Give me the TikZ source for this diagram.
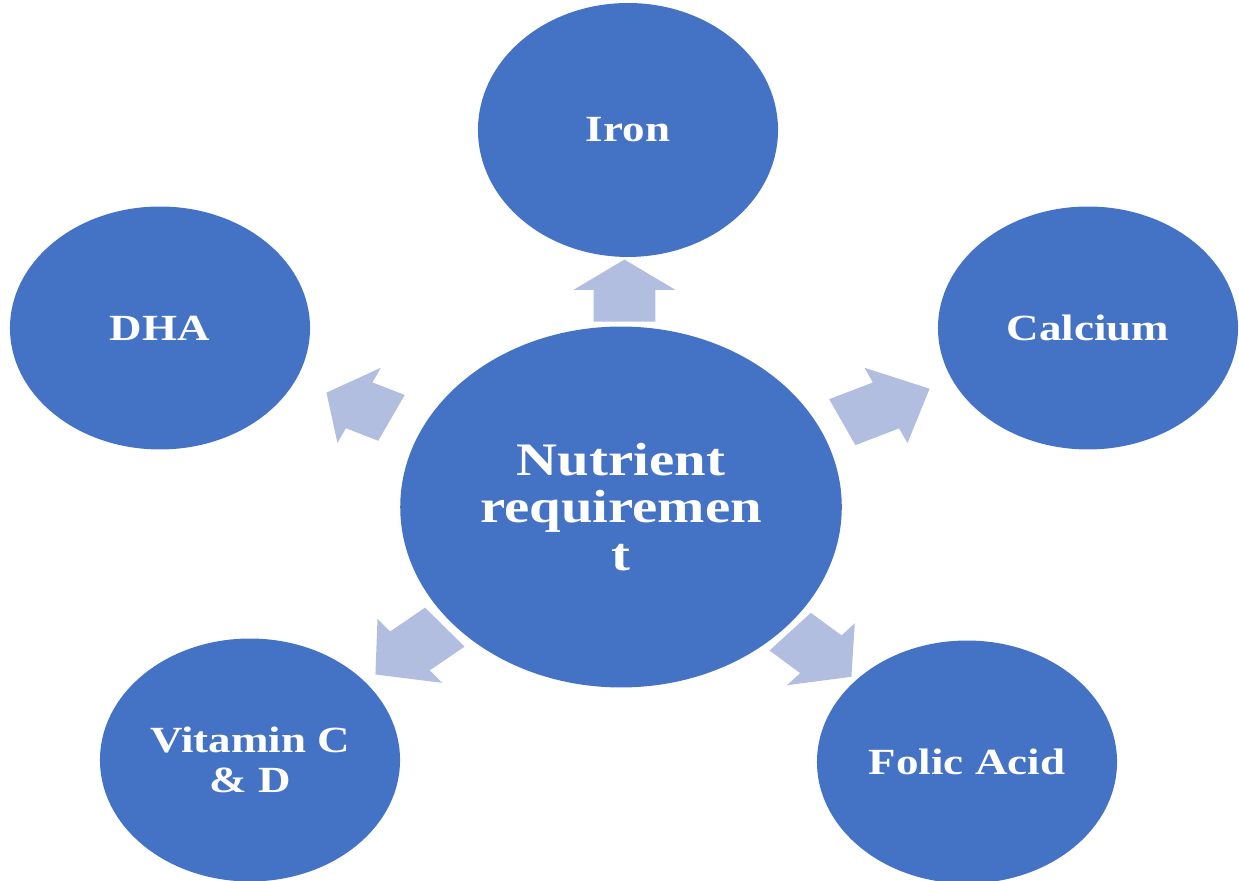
\documentclass[tikz,border=0pt]{standalone}
\usepackage{fontspec}
\setmainfont{Liberation Serif}
\usetikzlibrary{shapes.geometric, shapes.arrows, calc}
\definecolor{nutblue}{RGB}{68,114,196}
\definecolor{arrowblue}{RGB}{178,190,223}

\begin{document}
\begin{tikzpicture}[
    x=0.02cm, y=0.02cm,
    bubble/.style={ellipse, fill=nutblue, xscale=1.22, inner sep=0pt, minimum width=4.92cm, minimum height=4.86cm, text=white, align=center, font=\fontsize{21}{23}\selectfont\bfseries},
    hubbubble/.style={bubble, minimum width=7.24cm, minimum height=7.22cm, font=\fontsize{26.5}{27}\selectfont\bfseries},
    pointer/.style={single arrow, fill=arrowblue, draw=none, xscale=1.22, inner xsep=0pt, inner ysep=0.5cm, single arrow head extend=0.325cm, anchor=tail},
]
    \useasboundingbox (0,0) rectangle (1239,881);

    % Centre circle
    \node[hubbubble] (hub) at (621,374) {Nutrient\\requiremen\\t};

    % Outer circles
    \node[bubble, minimum height=5.08cm] (iron) at (628,751) {Iron};
    \node[bubble] (dha) at (160,553) {DHA};
    \node[bubble] (calcium) at (1088,553) {Calcium};
    \node[bubble] (vitcd) at (250,121) {Vitamin C\\\& D};
    \node[bubble] (folic) at (967,119) {Folic Acid};

    % Block arrows pointing outwards
    \node[pointer, rotate=90, minimum height=1.24cm, single arrow tip angle=108] (toiron) at ($(hub)!0.491!(iron)$) {};
    \node[pointer, rotate=154.65, minimum height=1.18cm, single arrow tip angle=109] (todha) at ($(hub)!0.497!(dha)$) {};
    \node[pointer, rotate=25.06, minimum height=1.58cm, single arrow tip angle=93] (tocalcium) at ($(hub)!0.473!(calcium)$) {};
    \node[pointer, rotate=219.76, minimum height=1.48cm, single arrow tip angle=97] (tovitcd) at ($(hub)!0.474!(vitcd)$) {};
    \node[pointer, rotate=-41.96, minimum height=1.35cm, single arrow tip angle=102] (tofolic) at ($(hub)!0.488!(folic)$) {};
\end{tikzpicture}
\end{document}
